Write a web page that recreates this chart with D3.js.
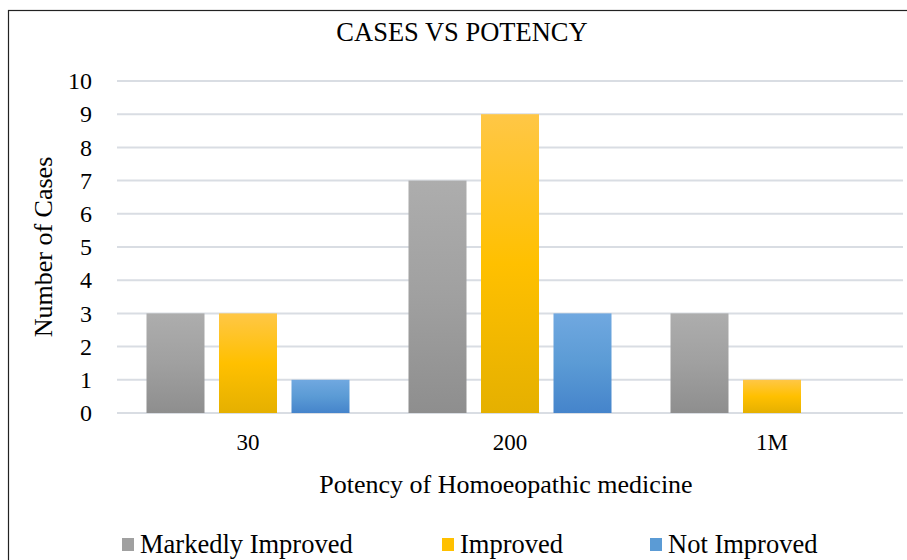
<!DOCTYPE html>
<html>
<head>
<meta charset="utf-8">
<script src="https://cdnjs.cloudflare.com/ajax/libs/d3/7.8.5/d3.min.js"></script>
<style>
  html, body { margin: 0; padding: 0; background: #fff; }
  svg text { font-family: "Liberation Serif", "Times New Roman", serif; fill: #000; }
</style>
</head>
<body>
<div id="chart"></div>
<script>
(function () {

    var categories = ["30", "200", "1M"];
    var seriesNames = ["Markedly Improved", "Improved", "Not Improved"];
    var markedly = [3, 7, 3];
    var improved = [3, 9, 1];
    var notImproved = [1, 3, 0];
    var yTicks = [0, 1, 2, 3, 4, 5, 6, 7, 8, 9, 10];

    var W = 907, H = 560;
    var margin = { top: 81, right: 4, bottom: 147, left: 117 };
    var iW = W - margin.left - margin.right;
    var iH = H - margin.top - margin.bottom;

    var svg = d3.select("#chart").append("svg")
        .attr("width", W).attr("height", H);

    // gradients
    var defs = svg.append("defs");
    var grads = [
        { id: "g-mark", stops: [["0%", "#adadad"], ["50%", "#a0a0a0"], ["100%", "#8e8e8e"]] },
        { id: "g-imp",  stops: [["0%", "#ffc746"], ["50%", "#ffc000"], ["100%", "#e5b000"]] },
        { id: "g-not",  stops: [["0%", "#70a8e0"], ["50%", "#5b9bd5"], ["100%", "#4584cb"]] }
    ];
    grads.forEach(function (g) {
        var lg = defs.append("linearGradient").attr("id", g.id)
            .attr("x1", 0).attr("y1", 0).attr("x2", 0).attr("y2", 1);
        g.stops.forEach(function (s) {
            lg.append("stop").attr("offset", s[0]).attr("stop-color", s[1]);
        });
    });
    var fills = ["url(#g-mark)", "url(#g-imp)", "url(#g-not)"];
    var swatch = ["#a0a0a0", "#ffc000", "#5b9bd5"];

    // outer frame
    svg.append("rect")
        .attr("x", 8.5).attr("y", 10.5)
        .attr("width", 920).attr("height", 600)
        .attr("fill", "none")
        .attr("stroke", "#222").attr("stroke-width", 1.2);

    var g = svg.append("g")
        .attr("transform", "translate(" + margin.left + "," + margin.top + ")");

    var x0 = d3.scaleBand().domain(categories).range([0, iW]).paddingInner(0).paddingOuter(0);
    var x1 = d3.scaleBand().domain(seriesNames).range([29.5, x0.bandwidth() - 29.5]).paddingInner(0.2).paddingOuter(0);
    var y = d3.scaleLinear().domain([0, 10]).range([iH, 0]);

    // gridlines
    g.append("g").selectAll("line").data(yTicks).enter().append("line")
        .attr("x1", 0).attr("x2", iW)
        .attr("y1", function (d) { return y(d); })
        .attr("y2", function (d) { return y(d); })
        .attr("stroke", "#d9dde3").attr("stroke-width", 2);

    // bars
    var rows = categories.map(function (c, i) {
        return { cat: c, vals: [markedly[i], improved[i], notImproved[i]] };
    });
    var grp = g.selectAll(".grp").data(rows).enter().append("g")
        .attr("transform", function (d) { return "translate(" + x0(d.cat) + ",0)"; });
    grp.selectAll("rect")
        .data(function (d) { return d.vals.map(function (v, k) { return { s: seriesNames[k], v: v, k: k }; }); })
        .enter().append("rect")
        .filter(function (d) { return d.v > 0; })
        .attr("x", function (d) { return x1(d.s); })
        .attr("width", x1.bandwidth())
        .attr("y", function (d) { return y(d.v); })
        .attr("height", function (d) { return y(0) - y(d.v); })
        .attr("fill", function (d) { return fills[d.k]; });

    // y axis labels
    var yAxis = d3.axisLeft(y).tickValues(yTicks).tickSize(0).tickPadding(25);
    var ya = g.append("g").call(yAxis);
    ya.select(".domain").remove();
    ya.selectAll("text")
        .style("font-family", "'Liberation Serif', serif")
        .style("font-size", "24px").attr("fill", "#000");

    // x axis labels
    var xAxis = d3.axisBottom(x0).tickSize(0).tickPadding(21);
    var xa = g.append("g").attr("transform", "translate(0," + iH + ")").call(xAxis);
    xa.select(".domain").remove();
    xa.selectAll("text")
        .style("font-family", "'Liberation Serif', serif")
        .style("font-size", "23px").attr("fill", "#000");

    // title
    svg.append("text")
        .attr("x", 462).attr("y", 41)
        .attr("text-anchor", "middle")
        .style("font-size", "26.5px")
        .text("CASES VS POTENCY");

    // axis titles
    svg.append("text")
        .attr("transform", "rotate(-90)")
        .attr("x", -247).attr("y", 52)
        .attr("text-anchor", "middle")
        .style("font-size", "26px")
        .text("Number of Cases");

    svg.append("text")
        .attr("x", 506).attr("y", 493)
        .attr("text-anchor", "middle")
        .style("font-size", "26px")
        .text("Potency of Homoeopathic medicine");

    // legend
    var legendX = [122, 442, 650];
    var lg = svg.append("g");
    seriesNames.forEach(function (s, i) {
        var it = lg.append("g").attr("transform", "translate(" + legendX[i] + ",545)");
        it.append("rect").attr("x", 0).attr("y", -7).attr("width", 12).attr("height", 13)
            .attr("fill", swatch[i]);
        it.append("text").attr("x", 18).attr("y", 8)
            .style("font-size", "26.5px")
            .text(s);
    });

}());
</script>
</body>
</html>
